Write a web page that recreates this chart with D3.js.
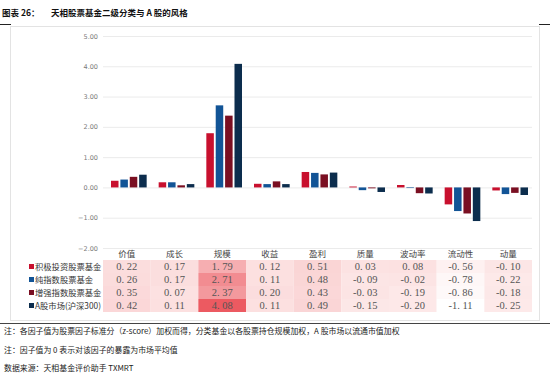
<!DOCTYPE html>
<html>
<head>
<meta charset="utf-8">
<script src="https://cdn.jsdelivr.net/npm/d3@7"></script>
<style>
  body { margin: 0; background: #fff; }
  svg { display: block; }
</style>
</head>
<body>
<svg id="chart"></svg>
<script>
// chart data
const categories = ["价值", "成长", "规模", "收益", "盈利", "质量", "波动率", "流动性", "动量"];
const seriesNames = ["积极投资股票基金", "纯指数股票基金", "增强指数股票基金", "A股市场(沪深300)"];
const activeFund = [0.22, 0.17, 1.79, 0.12, 0.51, 0.03, 0.08, -0.56, -0.10];
const indexFund = [0.26, 0.17, 2.71, 0.11, 0.48, -0.09, -0.02, -0.78, -0.22];
const enhancedFund = [0.35, 0.07, 2.37, 0.20, 0.43, -0.03, -0.19, -0.86, -0.18];
const csi300 = [0.42, 0.11, 4.08, 0.11, 0.49, -0.15, -0.20, -1.11, -0.25];
const yTicks = [-2, -1, 0, 1, 2, 3, 4, 5];
const notes = [
  "注：各因子值为股票因子标准分（z-score）加权而得，分类基金以各股票持仓规模加权，A 股市场以流通市值加权",
  "注：因子值为 0 表示对该因子的暴露为市场平均值",
  "数据来源：天相基金评价助手 TXMRT"
];

const W = 550, H = 374;
const colors = ["#c8102e", "#125496", "#7a0f22", "#0c2d4d"];
const allSeries = [activeFund, indexFund, enhancedFund, csi300];

const svg = d3.select("#chart").attr("width", W).attr("height", H);

// title
svg.append("text").attr("x", 2).attr("y", 16)
  .attr("font-family", "Noto Sans CJK SC").attr("font-size", 8.5).attr("font-weight", "bold")
  .attr("fill", "#111").text("图表 26：");
svg.append("text").attr("x", 51).attr("y", 16)
  .attr("font-family", "Noto Sans CJK SC").attr("font-size", 8.5).attr("font-weight", "bold")
  .attr("fill", "#111").text("天相股票基金二级分类与 A 股的风格");

// header rule (only the ends show beside the chart frame)
svg.append("line").attr("x1", 0).attr("x2", 11).attr("y1", 24.5).attr("y2", 24.5)
  .attr("stroke", "#222");
svg.append("line").attr("x1", 539).attr("x2", 550).attr("y1", 24.5).attr("y2", 24.5)
  .attr("stroke", "#222");
svg.append("rect").attr("x", 10.5).attr("y", 26.5).attr("width", 529).attr("height", 294)
  .attr("fill", "#fff").attr("stroke", "#e3e3e3");
svg.append("line").attr("x1", 0).attr("x2", 550).attr("y1", 323.5).attr("y2", 323.5)
  .attr("stroke", "#444").attr("stroke-width", 1);

// scales
const x = d3.scaleBand().domain(categories).range([103, 532]);
const xs = d3.scaleBand().domain(d3.range(4)).range([8, x.bandwidth() - 4]).paddingInner(0.2);
const y = d3.scaleLinear().domain([-2, 5]).range([248, 36]);

// gridlines + y axis
const yAxis = svg.append("g").attr("transform", "translate(103,0)")
  .call(d3.axisLeft(y).tickValues(yTicks).tickFormat(d3.format(".2f")).tickSize(-429).tickPadding(5));
yAxis.select(".domain").remove();
yAxis.selectAll(".tick line").attr("stroke", "#ebebeb");
yAxis.selectAll(".tick text").attr("font-family", "DejaVu Sans").attr("font-size", 6.5)
  .attr("fill", "#7a7a7a");

// bars
allSeries.forEach((vals, si) => {
  svg.append("g").selectAll("rect")
    .data(vals)
    .enter()
    .append("rect")
      .attr("x", (d, i) => x(categories[i]) + xs(si))
      .attr("y", d => y(Math.max(0, d)))
      .attr("width", xs.bandwidth())
      .attr("height", d => Math.abs(y(d) - y(0)))
      .attr("fill", colors[si]);
});

// category labels
svg.append("g").selectAll("text")
  .data(categories)
  .enter()
  .append("text")
    .attr("x", d => x(d) + x.bandwidth() / 2)
    .attr("y", 257)
    .attr("text-anchor", "middle")
    .attr("font-family", "Noto Sans CJK SC").attr("font-size", 8.5)
    .attr("fill", "#444")
    .text(d => d);

// data table with heat colours
const rowY = d3.scaleBand().domain(d3.range(4)).range([260, 312]);
const heat = d3.scaleLinear().domain([-1.11, 0.0, 1.5, 4.08])
  .range(["#ffffff", "#fce3e3", "#f7b9bb", "#ec5a61"]);
const fmt = d => d3.format(".2f")(d).replace(".", ". ").replace("−", "-");

allSeries.forEach((vals, si) => {
  const row = svg.append("g");
  row.selectAll("rect")
    .data(vals)
    .enter()
    .append("rect")
      .attr("x", (d, i) => x(categories[i]))
      .attr("y", rowY(si))
      .attr("width", x.bandwidth())
      .attr("height", rowY.bandwidth())
      .attr("fill", d => heat(d));
  row.selectAll("text")
    .data(vals)
    .enter()
    .append("text")
      .attr("x", (d, i) => x(categories[i]) + x.bandwidth() / 2)
      .attr("y", rowY(si) + rowY.bandwidth() / 2 + 3.5)
      .attr("text-anchor", "middle")
      .attr("font-family", "Liberation Serif").attr("font-size", 10.5)
      .attr("fill", "#555")
      .text(fmt);

  // legend entry
  svg.append("rect").attr("x", 29).attr("y", rowY(si) + rowY.bandwidth() / 2 - 2.5)
    .attr("width", 5).attr("height", 5).attr("fill", colors[si]);
  svg.append("text").attr("x", 35).attr("y", rowY(si) + rowY.bandwidth() / 2 + 3)
    .attr("font-family", "Noto Sans CJK SC").attr("font-size", 8.3)
    .attr("fill", "#333").text(seriesNames[si]);
});

// notes
svg.append("g").selectAll("text")
  .data(notes)
  .enter()
  .append("text")
    .attr("x", 4)
    .attr("y", (d, i) => [334, 353, 371][i])
    .attr("font-family", "Noto Sans CJK SC").attr("font-size", 7.9)
    .attr("fill", "#222")
    .text(d => d);
</script>
</body>
</html>
